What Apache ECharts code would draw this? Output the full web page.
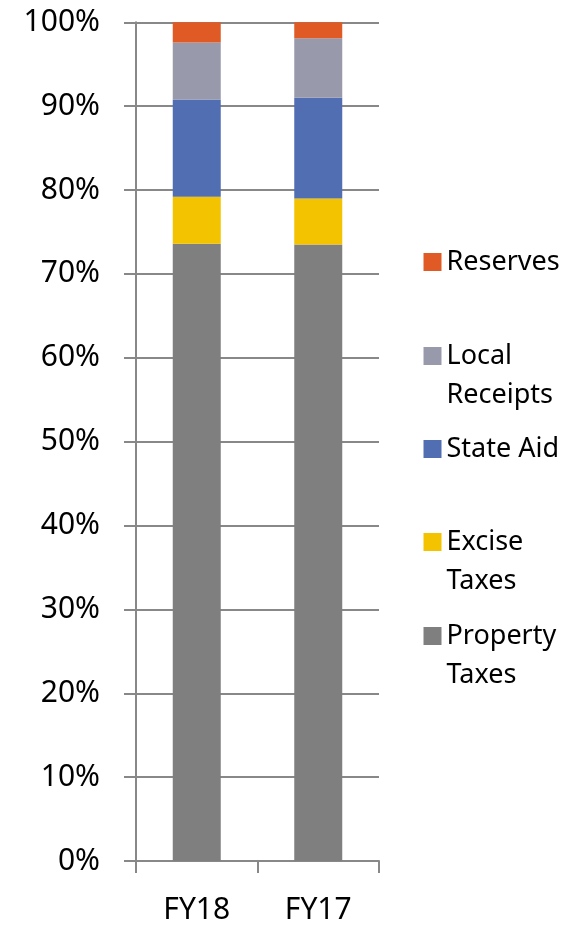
<!DOCTYPE html>
<html>
<head>
<meta charset="utf-8">
<script src="https://cdn.jsdelivr.net/npm/echarts@6/dist/echarts.min.js"></script>
<style>
html,body{margin:0;padding:0;background:#fff;}
#chart{width:571px;height:925px;}
</style>
</head>
<body>
<div id="chart"></div>
<script>
const categories = ['FY18', 'FY17'];
const propertyTaxes = [73.6, 73.5];
const exciseTaxes = [5.6, 5.5];
const stateAid = [11.6, 12.0];
const localReceipts = [6.8, 7.1];
const reserves = [2.4, 1.9];
const yTicks = [0, 10, 20, 30, 40, 50, 60, 70, 80, 90, 100];

const seriesDefs = [
  {name: 'Property Taxes', data: propertyTaxes, color: '#7F7F7F'},
  {name: 'Excise Taxes', data: exciseTaxes, color: '#F4C300'},
  {name: 'State Aid', data: stateAid, color: '#516EB3'},
  {name: 'Local Receipts', data: localReceipts, color: '#989AAC'},
  {name: 'Reserves', data: reserves, color: '#DF5A24'}
];

const FONT = 'Noto Sans';
const legendItems = [
  {name: 'Reserves', label: 'Reserves', center: 262, lines: 1},
  {name: 'Local Receipts', label: '\u00a0\nLocal\nReceipts', center: 356, lines: 2},
  {name: 'State Aid', label: 'State Aid', center: 449, lines: 1},
  {name: 'Excise Taxes', label: '\u00a0\nExcise\nTaxes', center: 542, lines: 2},
  {name: 'Property Taxes', label: '\u00a0\nProperty\nTaxes', center: 636, lines: 2}
];
const LH = 39;

const legends = legendItems.map(function (it) {
  const two = it.lines === 2;
  return {
    orient: 'vertical',
    left: 423.5,
    top: two ? it.center - 1.5 * LH : it.center - LH / 2,
    padding: 0,
    itemWidth: 18,
    itemHeight: 18,
    icon: 'rect',
    selectedMode: false,
    data: [it.name],
    formatter: function () { return it.label; },
    textStyle: {
      fontFamily: FONT,
      fontSize: 27,
      color: '#000',
      lineHeight: LH
    }
  };
});

const chart = echarts.init(document.getElementById('chart'));
chart.setOption({
  animation: false,
  backgroundColor: '#fff',
  grid: {left: 136, right: 192, top: 22.3, bottom: 62.5, containLabel: false},
  legend: legends,
  xAxis: {
    type: 'category',
    data: categories,
    axisLine: {lineStyle: {color: '#888888', width: 2}},
    axisTick: {show: true, length: 12, alignWithLabel: false, lineStyle: {color: '#888888', width: 2}},
    axisLabel: {fontFamily: FONT, fontSize: 30, color: '#000', margin: 34}
  },
  yAxis: {
    type: 'value',
    min: yTicks[0],
    max: yTicks[yTicks.length - 1],
    interval: 10,
    axisLine: {show: true, lineStyle: {color: '#888888', width: 2}},
    axisTick: {show: true, length: 12, lineStyle: {color: '#888888', width: 2}},
    splitLine: {show: true, lineStyle: {color: '#888888', width: 2}},
    axisLabel: {fontFamily: FONT, fontSize: 30, color: '#000', margin: 36, formatter: '{value}%'}
  },
  series: seriesDefs.map(function (s) {
    return {
      name: s.name,
      type: 'bar',
      stack: 'total',
      barWidth: 48,
      data: s.data,
      itemStyle: {color: s.color}
    };
  })
});
</script>
</body>
</html>
